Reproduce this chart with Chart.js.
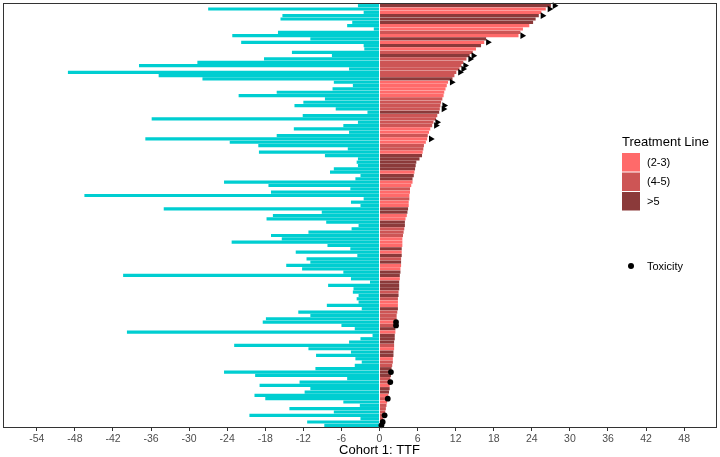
<!DOCTYPE html>
<html>
<head>
<meta charset="utf-8">
<script src="https://cdn.jsdelivr.net/npm/chart.js@4/dist/chart.umd.min.js"></script>
<style>
  html, body { margin: 0; padding: 0; background: #fff; }
  #wrap { width: 720px; height: 457px; }
</style>
</head>
<body>
<div id="wrap"><canvas id="swimChart" width="720" height="457"></canvas></div>
<script>
// time to failure on prior line (left, negative) and on study (right)
const priorTTF = [
  -3.4, -27.0, -2.5, -15.3, -15.6, -4.3, -5.1, -0.9, -16.0, -23.2,
  -10.9, -21.8, -2.5, -2.4, -13.8, -7.5, -18.2, -28.7, -37.9, -4.8,
  -49.1, -34.8, -27.9, -7.2, -4.2, -7.4, -16.2, -22.2, -8.6, -12.0,
  -13.4, -6.9, -1.9, -12.1, -35.9, -3.4, -5.7, -13.5, -4.8, -16.2,
  -36.9, -23.6, -19.1, -5.0, -19.0, -8.6, -3.4, -3.6, -3.4, -7.2,
  -7.8, -3.0, -3.8, -24.5, -17.5, -4.6, -17.1, -46.5, -2.5, -4.5,
  -3.0, -34.0, -9.1, -16.8, -17.8, -8.4, -3.3, -4.4, -11.2, -17.1,
  -15.4, -23.3, -8.2, -4.6, -13.2, -3.5, -11.5, -10.9, -14.7, -12.2,
  -5.7, -40.4, -4.5, -1.5, -8.1, -4.1, -4.2, -3.3, -3.6, -3.3,
  -8.3, -2.8, -12.8, -10.9, -17.9, -18.4, -6.0, -3.9, -39.8, -1.1,
  -3.0, -4.8, -22.9, -11.2, -4.5, -10.0, -3.8, -2.8, -3.9, -10.1,
  -24.5, -19.6, -5.1, -12.6, -18.9, -10.9, -11.8, -19.7, -18.0, -5.7,
  -3.1, -14.2, -7.2, -20.5, -3.0, -11.4, -8.7
];
const currentTTF = [
  27.0, 26.2, 25.5, 25.1, 24.6, 24.2, 23.6, 22.6, 22.2, 21.9,
  16.8, 16.5, 16.0, 15.2, 14.7, 14.2, 13.7, 13.2, 12.9, 12.6,
  12.1, 11.8, 11.5, 10.8, 10.6, 10.4, 10.2, 10.1, 9.9, 9.7,
  9.6, 9.5, 9.4, 9.1, 8.9, 8.5, 8.3, 8.0, 7.8, 7.6,
  7.5, 7.3, 7.0, 6.9, 6.8, 6.7, 6.3, 5.8, 5.7, 5.6,
  5.5, 5.4, 5.2, 5.2, 5.0, 4.8, 4.8, 4.7, 4.7, 4.6,
  4.6, 4.5, 4.4, 4.3, 4.1, 4.0, 4.0, 3.9, 3.8, 3.7,
  3.6, 3.6, 3.6, 3.5, 3.5, 3.5, 3.4, 3.4, 3.4, 3.3,
  3.3, 3.2, 3.2, 3.1, 3.1, 3.1, 3.0, 3.0, 2.9, 2.9,
  2.9, 2.9, 2.8, 2.7, 2.7, 2.6, 2.6, 2.5, 2.5, 2.4,
  2.4, 2.3, 2.3, 2.3, 2.2, 2.2, 2.1, 2.1, 2.0, 1.9,
  1.8, 1.8, 1.7, 1.7, 1.6, 1.6, 1.5, 1.4, 1.3, 1.2,
  1.1, 1.0, 0.9, 0.8, 0.6, 0.5, 0.3
];
// 1 = (2-3), 2 = (4-5), 3 = >5
const lineGroup = [
  3, 1, 1, 3, 3, 3, 1, 1, 2, 1,
  3, 1, 3, 1, 2, 3, 2, 2, 2, 2,
  2, 2, 3, 1, 1, 1, 1, 1, 2, 2,
  2, 2, 3, 2, 2, 2, 2, 1, 1, 2,
  1, 1, 2, 2, 1, 3, 3, 3, 3, 3,
  1, 3, 3, 1, 1, 2, 1, 1, 2, 1,
  1, 3, 3, 1, 1, 3, 3, 2, 2, 2,
  1, 1, 1, 3, 1, 3, 2, 3, 1, 1,
  3, 3, 1, 3, 3, 3, 2, 3, 2, 1,
  1, 3, 2, 2, 2, 1, 2, 3, 1, 3,
  3, 3, 2, 1, 3, 3, 1, 2, 2, 3,
  3, 3, 2, 2, 1, 3, 3, 1, 2, 1,
  2, 2, 2, 2, 2, 3, 3
];
const ongoingPatients = [1, 2, 4, 10, 12, 16, 17, 19, 20, 21, 24, 31, 32, 36, 37, 41];
const toxicityPatients = [96, 97, 111, 114, 119, 124, 126, 127];
const tickVals = [-54, -48, -42, -36, -30, -24, -18, -12, -6, 0, 6, 12, 18, 24, 30, 36, 42, 48];
const groupNames = ["(2-3)", "(4-5)", ">5"];
const groupColors = ["#FF6A6A", "#CD5555", "#8B3A3A"];
const priorColor = "#00CED1";

const patients = currentTTF.map((v, i) => "P" + (i + 1));
const arrowData = currentTTF.map((v, i) => ongoingPatients.includes(i + 1) ? v + 0.6 : null);
const toxData = currentTTF.map((v, i) => toxicityPatients.includes(i + 1) ? v : null);

const legendPlugin = {
  id: "sideLegend",
  afterDraw(chart) {
    const ctx = chart.ctx;
    const area = chart.chartArea;
    ctx.save();
    // panel border
    ctx.strokeStyle = "#333";
    ctx.lineWidth = 1;
    ctx.strokeRect(area.left - 0.5, area.top - 0.5, area.right - area.left + 1, area.bottom - area.top + 1);

    ctx.fillStyle = "#000";
    ctx.textBaseline = "middle";
    ctx.textAlign = "left";
    ctx.font = "13px 'Liberation Sans', Arial, sans-serif";
    ctx.fillText("Treatment Line", 622, 142);
    ctx.font = "11px 'Liberation Sans', Arial, sans-serif";
    groupNames.forEach((name, i) => {
      const top = 153 + i * 19.5;
      ctx.fillStyle = groupColors[i];
      ctx.fillRect(622, top, 18, 18.5);
      ctx.fillStyle = "#000";
      ctx.fillText(name, 647, top + 9.5);
    });
    ctx.beginPath();
    ctx.arc(631, 266, 3, 0, Math.PI * 2);
    ctx.fill();
    ctx.fillText("Toxicity", 647, 267);

    // x axis title
    ctx.textAlign = "center";
    ctx.font = "13px 'Liberation Sans', Arial, sans-serif";
    const xs = chart.scales.x;
    ctx.fillText("Cohort 1: TTF", xs.getPixelForValue(0), 450);
    ctx.restore();
  }
};

const ctx = document.getElementById("swimChart");
new Chart(ctx, {
  type: "bar",
  data: {
    labels: patients,
    datasets: [
      {
        label: "Prior",
        data: priorTTF,
        backgroundColor: priorColor,
        grouped: false,
        barPercentage: 1,
        categoryPercentage: 0.96,
        order: 3,
      },
      {
        label: "Current",
        data: currentTTF,
        backgroundColor: lineGroup.map((g) => groupColors[g - 1]),
        grouped: false,
        barPercentage: 1,
        categoryPercentage: 0.96,
        order: 2,
      },
      {
        type: "line",
        label: "Ongoing",
        data: arrowData,
        showLine: false,
        pointStyle: "triangle",
        rotation: 90,
        pointRadius: 3.8,
        backgroundColor: "#000",
        borderColor: "#000",
        borderWidth: 0,
        order: 1,
      },
      {
        type: "line",
        label: "Toxicity",
        data: toxData,
        showLine: false,
        pointStyle: "circle",
        pointRadius: 2.9,
        backgroundColor: "#000",
        borderColor: "#000",
        borderWidth: 0,
        order: 0,
      },
    ],
  },
  options: {
    indexAxis: "y",
    responsive: false,
    animation: false,
    layout: { padding: { left: 1, top: 1, right: 1, bottom: 0 } },
    plugins: {
      legend: { display: false },
      tooltip: { enabled: false },
    },
    scales: {
      y: {
        display: false,
        offset: true,
      },
      x: {
        type: "linear",
        min: -59.17,
        max: 53.02,
        afterBuildTicks: (scale) => {
          scale.ticks = tickVals.map((v) => ({ value: v }));
        },
        afterFit: (scale) => {
          scale.height = 30;
        },
        border: { display: false },
        grid: {
          drawOnChartArea: false,
          drawTicks: true,
          tickLength: 4,
          color: "#333",
        },
        ticks: {
          autoSkip: false,
          maxRotation: 0,
          padding: 2,
          color: "#4D4D4D",
          font: { family: "'Liberation Sans', Arial, sans-serif", size: 10.5 },
        },
      },
    },
  },
  plugins: [legendPlugin],
});
</script>
</body>
</html>
